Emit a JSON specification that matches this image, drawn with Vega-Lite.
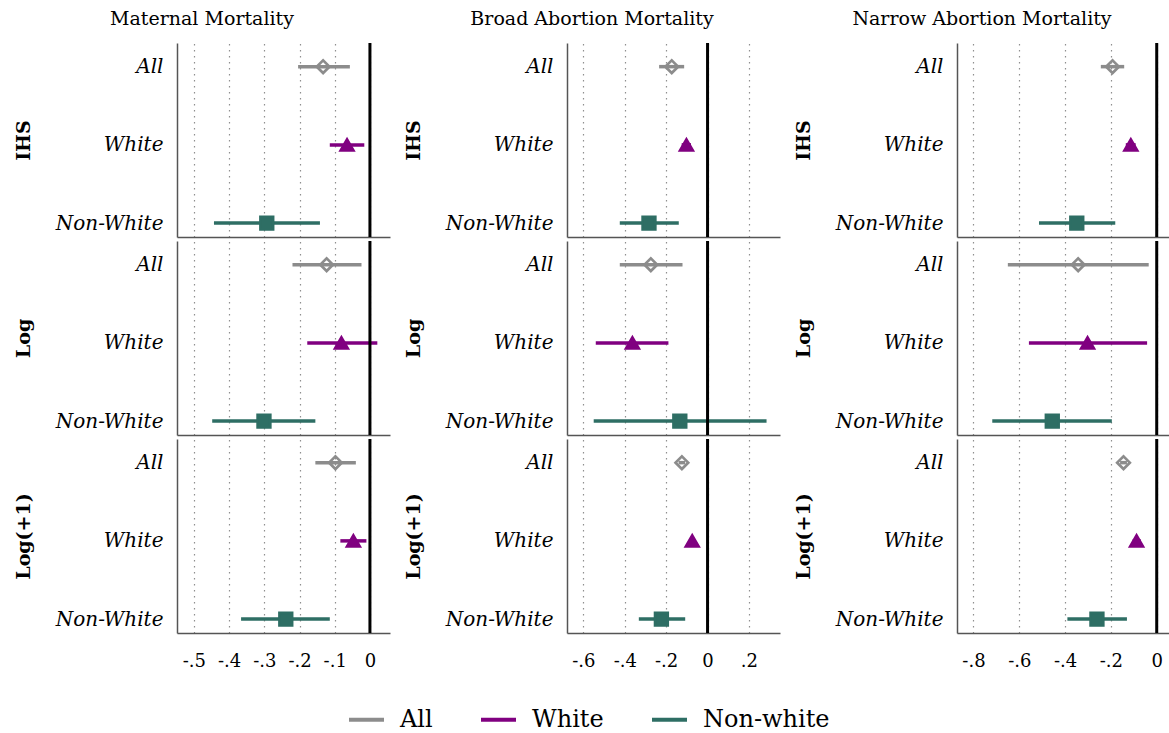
{
"$schema": "https://vega.github.io/schema/vega-lite/v6.json",
"padding": {"left": 14, "top": 9, "right": 0, "bottom": 0},
"background": "white",
"data": {"values": [
{"outcome":"Maternal","spec":"IHS","group":"All","leg":"All","est":-0.133,"lo":-0.204,"hi":-0.057},
{"outcome":"Maternal","spec":"IHS","group":"White","leg":"White","est":-0.065,"lo":-0.114,"hi":-0.016},
{"outcome":"Maternal","spec":"IHS","group":"Non-White","leg":"Non-white","est":-0.293,"lo":-0.443,"hi":-0.142},
{"outcome":"Maternal","spec":"Log","group":"All","leg":"All","est":-0.123,"lo":-0.220,"hi":-0.024},
{"outcome":"Maternal","spec":"Log","group":"White","leg":"White","est":-0.081,"lo":-0.178,"hi":0.021},
{"outcome":"Maternal","spec":"Log","group":"Non-White","leg":"Non-white","est":-0.301,"lo":-0.448,"hi":-0.155},
{"outcome":"Maternal","spec":"Log(+1)","group":"All","leg":"All","est":-0.098,"lo":-0.155,"hi":-0.040},
{"outcome":"Maternal","spec":"Log(+1)","group":"White","leg":"White","est":-0.047,"lo":-0.084,"hi":-0.010},
{"outcome":"Maternal","spec":"Log(+1)","group":"Non-White","leg":"Non-white","est":-0.239,"lo":-0.366,"hi":-0.114},
{"outcome":"Broad","spec":"IHS","group":"All","leg":"All","est":-0.173,"lo":-0.234,"hi":-0.113},
{"outcome":"Broad","spec":"IHS","group":"White","leg":"White","est":-0.102,"lo":-0.125,"hi":-0.080},
{"outcome":"Broad","spec":"IHS","group":"Non-White","leg":"Non-white","est":-0.283,"lo":-0.424,"hi":-0.139},
{"outcome":"Broad","spec":"Log","group":"All","leg":"All","est":-0.274,"lo":-0.424,"hi":-0.121},
{"outcome":"Broad","spec":"Log","group":"White","leg":"White","est":-0.363,"lo":-0.540,"hi":-0.189},
{"outcome":"Broad","spec":"Log","group":"Non-White","leg":"Non-white","est":-0.134,"lo":-0.550,"hi":0.285},
{"outcome":"Broad","spec":"Log(+1)","group":"All","leg":"All","est":-0.124,"lo":-0.140,"hi":-0.108},
{"outcome":"Broad","spec":"Log(+1)","group":"White","leg":"White","est":-0.074,"lo":-0.090,"hi":-0.060},
{"outcome":"Broad","spec":"Log(+1)","group":"Non-White","leg":"Non-white","est":-0.223,"lo":-0.332,"hi":-0.108},
{"outcome":"Narrow","spec":"IHS","group":"All","leg":"All","est":-0.193,"lo":-0.244,"hi":-0.142},
{"outcome":"Narrow","spec":"IHS","group":"White","leg":"White","est":-0.113,"lo":-0.135,"hi":-0.092},
{"outcome":"Narrow","spec":"IHS","group":"Non-White","leg":"Non-white","est":-0.349,"lo":-0.514,"hi":-0.181},
{"outcome":"Narrow","spec":"Log","group":"All","leg":"All","est":-0.343,"lo":-0.650,"hi":-0.035},
{"outcome":"Narrow","spec":"Log","group":"White","leg":"White","est":-0.302,"lo":-0.558,"hi":-0.042},
{"outcome":"Narrow","spec":"Log","group":"Non-White","leg":"Non-white","est":-0.456,"lo":-0.718,"hi":-0.196},
{"outcome":"Narrow","spec":"Log(+1)","group":"All","leg":"All","est":-0.145,"lo":-0.160,"hi":-0.130},
{"outcome":"Narrow","spec":"Log(+1)","group":"White","leg":"White","est":-0.088,"lo":-0.105,"hi":-0.070},
{"outcome":"Narrow","spec":"Log(+1)","group":"Non-White","leg":"Non-white","est":-0.261,"lo":-0.390,"hi":-0.130}
]},
"spacing": 14,
"hconcat": [
{"title": "Maternal Mortality", "spacing": 0, "vconcat": [
 {"width": 213, "height": 194, "layer": [
  {"transform": [{"filter": "datum.outcome == 'Maternal' && datum.spec == 'IHS'"}], "mark": {"type": "rule", "strokeWidth": 3.5},
   "encoding": {"x": {"field": "lo", "type": "quantitative", "scale": {"domain": [-0.548, 0.057], "nice": false, "zero": false}, "axis": {"labels": false, "ticks": false, "title": null, "values": [-0.5,-0.4,-0.3,-0.2,-0.1,0], "minExtent": 0}}, "x2": {"field": "hi"},
    "y": {"field": "group", "type": "nominal", "scale": {"type": "point", "domain": ["All","White","Non-White"], "padding": 0.24, "align": 0.63}, "axis": {"title": "IHS"}},
    "color": {"field": "leg", "type": "nominal", "scale": {"domain": ["All","White","Non-white"], "range": ["#8c8c8c","#800080","#2e6e64"]},
      "legend": {"orient": "none", "direction": "horizontal", "legendX": 170, "legendY": 657, "title": null, "symbolType": "stroke", "symbolSize": 1225, "symbolStrokeWidth": 4, "labelFontSize": 24, "labelFont": "DejaVu Serif", "labelColor": "black", "labelOffset": 14, "columnPadding": 40, "padding": 0}}}},
  {"data": {"values": [{"z": 0}]}, "mark": {"type": "rule", "color": "black", "strokeWidth": 3}, "encoding": {"x": {"field": "z", "type": "quantitative"}}},
  {"transform": [{"filter": "datum.outcome == 'Maternal' && datum.spec == 'IHS'"}], "mark": {"type": "point", "size": 160, "strokeWidth": 2.7, "opacity": 1},
   "encoding": {"x": {"field": "est", "type": "quantitative"},
    "y": {"field": "group", "type": "nominal", "scale": {"type": "point", "domain": ["All","White","Non-White"], "padding": 0.24, "align": 0.63}, "axis": {"title": "IHS"}},
    "stroke": {"field": "group", "type": "nominal", "scale": {"domain": ["All","White","Non-White"], "range": ["#8c8c8c","#800080","#2e6e64"]}, "legend": null},
    "shape": {"field": "group", "type": "nominal", "scale": {"domain": ["All","White","Non-White"], "range": ["diamond","triangle-up","square"]}, "legend": null},
    "fill": {"field": "group", "type": "nominal", "scale": {"domain": ["All","White","Non-White"], "range": ["transparent","#800080","#2e6e64"]}, "legend": null}}}
 ]},
 {"width": 213, "height": 194, "layer": [
  {"transform": [{"filter": "datum.outcome == 'Maternal' && datum.spec == 'Log'"}], "mark": {"type": "rule", "strokeWidth": 3.5},
   "encoding": {"x": {"field": "lo", "type": "quantitative", "scale": {"domain": [-0.548, 0.057], "nice": false, "zero": false}, "axis": {"labels": false, "ticks": false, "title": null, "values": [-0.5,-0.4,-0.3,-0.2,-0.1,0], "minExtent": 0}}, "x2": {"field": "hi"},
    "y": {"field": "group", "type": "nominal", "scale": {"type": "point", "domain": ["All","White","Non-White"], "padding": 0.24, "align": 0.63}, "axis": {"title": "Log"}},
    "color": {"field": "leg", "type": "nominal"}}},
  {"data": {"values": [{"z": 0}]}, "mark": {"type": "rule", "color": "black", "strokeWidth": 3}, "encoding": {"x": {"field": "z", "type": "quantitative"}}},
  {"transform": [{"filter": "datum.outcome == 'Maternal' && datum.spec == 'Log'"}], "mark": {"type": "point", "size": 160, "strokeWidth": 2.7, "opacity": 1},
   "encoding": {"x": {"field": "est", "type": "quantitative"},
    "y": {"field": "group", "type": "nominal", "scale": {"type": "point", "domain": ["All","White","Non-White"], "padding": 0.24, "align": 0.63}, "axis": {"title": "Log"}},
    "stroke": {"field": "group", "type": "nominal", "legend": null},
    "shape": {"field": "group", "type": "nominal", "legend": null},
    "fill": {"field": "group", "type": "nominal", "legend": null}}}
 ]},
 {"width": 213, "height": 194, "layer": [
  {"transform": [{"filter": "datum.outcome == 'Maternal' && datum.spec == 'Log(+1)'"}], "mark": {"type": "rule", "strokeWidth": 3.5},
   "encoding": {"x": {"field": "lo", "type": "quantitative", "scale": {"domain": [-0.548, 0.057], "nice": false, "zero": false}, "axis": {"title": null, "values": [-0.5,-0.4,-0.3,-0.2,-0.1,0], "labelExpr": "datum.value == 0 ? '0' : (datum.value < 0 ? '-' : '') + replace(format(abs(datum.value), '.1f'), '0.', '.')"}}, "x2": {"field": "hi"},
    "y": {"field": "group", "type": "nominal", "scale": {"type": "point", "domain": ["All","White","Non-White"], "padding": 0.24, "align": 0.63}, "axis": {"title": "Log(+1)"}},
    "color": {"field": "leg", "type": "nominal"}}},
  {"data": {"values": [{"z": 0}]}, "mark": {"type": "rule", "color": "black", "strokeWidth": 3}, "encoding": {"x": {"field": "z", "type": "quantitative"}}},
  {"transform": [{"filter": "datum.outcome == 'Maternal' && datum.spec == 'Log(+1)'"}], "mark": {"type": "point", "size": 160, "strokeWidth": 2.7, "opacity": 1},
   "encoding": {"x": {"field": "est", "type": "quantitative"},
    "y": {"field": "group", "type": "nominal", "scale": {"type": "point", "domain": ["All","White","Non-White"], "padding": 0.24, "align": 0.63}, "axis": {"title": "Log(+1)"}},
    "stroke": {"field": "group", "type": "nominal", "legend": null},
    "shape": {"field": "group", "type": "nominal", "legend": null},
    "fill": {"field": "group", "type": "nominal", "legend": null}}}
 ]}
]},
{"title": "Broad Abortion Mortality", "spacing": 0, "vconcat": [
 {"width": 213, "height": 194, "layer": [
  {"transform": [{"filter": "datum.outcome == 'Broad' && datum.spec == 'IHS'"}], "mark": {"type": "rule", "strokeWidth": 3.5},
   "encoding": {"x": {"field": "lo", "type": "quantitative", "scale": {"domain": [-0.679, 0.35], "nice": false, "zero": false}, "axis": {"labels": false, "ticks": false, "title": null, "values": [-0.6,-0.4,-0.2,0,0.2], "minExtent": 0}}, "x2": {"field": "hi"},
    "y": {"field": "group", "type": "nominal", "scale": {"type": "point", "domain": ["All","White","Non-White"], "padding": 0.24, "align": 0.63}, "axis": {"title": "IHS"}},
    "color": {"field": "leg", "type": "nominal"}}},
  {"data": {"values": [{"z": 0}]}, "mark": {"type": "rule", "color": "black", "strokeWidth": 3}, "encoding": {"x": {"field": "z", "type": "quantitative"}}},
  {"transform": [{"filter": "datum.outcome == 'Broad' && datum.spec == 'IHS'"}], "mark": {"type": "point", "size": 160, "strokeWidth": 2.7, "opacity": 1},
   "encoding": {"x": {"field": "est", "type": "quantitative"},
    "y": {"field": "group", "type": "nominal", "scale": {"type": "point", "domain": ["All","White","Non-White"], "padding": 0.24, "align": 0.63}, "axis": {"title": "IHS"}},
    "stroke": {"field": "group", "type": "nominal", "legend": null},
    "shape": {"field": "group", "type": "nominal", "legend": null},
    "fill": {"field": "group", "type": "nominal", "legend": null}}}
 ]},
 {"width": 213, "height": 194, "layer": [
  {"transform": [{"filter": "datum.outcome == 'Broad' && datum.spec == 'Log'"}], "mark": {"type": "rule", "strokeWidth": 3.5},
   "encoding": {"x": {"field": "lo", "type": "quantitative", "scale": {"domain": [-0.679, 0.35], "nice": false, "zero": false}, "axis": {"labels": false, "ticks": false, "title": null, "values": [-0.6,-0.4,-0.2,0,0.2], "minExtent": 0}}, "x2": {"field": "hi"},
    "y": {"field": "group", "type": "nominal", "scale": {"type": "point", "domain": ["All","White","Non-White"], "padding": 0.24, "align": 0.63}, "axis": {"title": "Log"}},
    "color": {"field": "leg", "type": "nominal"}}},
  {"data": {"values": [{"z": 0}]}, "mark": {"type": "rule", "color": "black", "strokeWidth": 3}, "encoding": {"x": {"field": "z", "type": "quantitative"}}},
  {"transform": [{"filter": "datum.outcome == 'Broad' && datum.spec == 'Log'"}], "mark": {"type": "point", "size": 160, "strokeWidth": 2.7, "opacity": 1},
   "encoding": {"x": {"field": "est", "type": "quantitative"},
    "y": {"field": "group", "type": "nominal", "scale": {"type": "point", "domain": ["All","White","Non-White"], "padding": 0.24, "align": 0.63}, "axis": {"title": "Log"}},
    "stroke": {"field": "group", "type": "nominal", "legend": null},
    "shape": {"field": "group", "type": "nominal", "legend": null},
    "fill": {"field": "group", "type": "nominal", "legend": null}}}
 ]},
 {"width": 213, "height": 194, "layer": [
  {"transform": [{"filter": "datum.outcome == 'Broad' && datum.spec == 'Log(+1)'"}], "mark": {"type": "rule", "strokeWidth": 3.5},
   "encoding": {"x": {"field": "lo", "type": "quantitative", "scale": {"domain": [-0.679, 0.35], "nice": false, "zero": false}, "axis": {"title": null, "values": [-0.6,-0.4,-0.2,0,0.2], "labelExpr": "datum.value == 0 ? '0' : (datum.value < 0 ? '-' : '') + replace(format(abs(datum.value), '.1f'), '0.', '.')"}}, "x2": {"field": "hi"},
    "y": {"field": "group", "type": "nominal", "scale": {"type": "point", "domain": ["All","White","Non-White"], "padding": 0.24, "align": 0.63}, "axis": {"title": "Log(+1)"}},
    "color": {"field": "leg", "type": "nominal"}}},
  {"data": {"values": [{"z": 0}]}, "mark": {"type": "rule", "color": "black", "strokeWidth": 3}, "encoding": {"x": {"field": "z", "type": "quantitative"}}},
  {"transform": [{"filter": "datum.outcome == 'Broad' && datum.spec == 'Log(+1)'"}], "mark": {"type": "point", "size": 160, "strokeWidth": 2.7, "opacity": 1},
   "encoding": {"x": {"field": "est", "type": "quantitative"},
    "y": {"field": "group", "type": "nominal", "scale": {"type": "point", "domain": ["All","White","Non-White"], "padding": 0.24, "align": 0.63}, "axis": {"title": "Log(+1)"}},
    "stroke": {"field": "group", "type": "nominal", "legend": null},
    "shape": {"field": "group", "type": "nominal", "legend": null},
    "fill": {"field": "group", "type": "nominal", "legend": null}}}
 ]}
]},
{"title": "Narrow Abortion Mortality", "spacing": 0, "vconcat": [
 {"width": 213, "height": 194, "layer": [
  {"transform": [{"filter": "datum.outcome == 'Narrow' && datum.spec == 'IHS'"}], "mark": {"type": "rule", "strokeWidth": 3.5},
   "encoding": {"x": {"field": "lo", "type": "quantitative", "scale": {"domain": [-0.872, 0.058], "nice": false, "zero": false}, "axis": {"labels": false, "ticks": false, "title": null, "values": [-0.8,-0.6,-0.4,-0.2,0], "minExtent": 0}}, "x2": {"field": "hi"},
    "y": {"field": "group", "type": "nominal", "scale": {"type": "point", "domain": ["All","White","Non-White"], "padding": 0.24, "align": 0.63}, "axis": {"title": "IHS"}},
    "color": {"field": "leg", "type": "nominal"}}},
  {"data": {"values": [{"z": 0}]}, "mark": {"type": "rule", "color": "black", "strokeWidth": 3}, "encoding": {"x": {"field": "z", "type": "quantitative"}}},
  {"transform": [{"filter": "datum.outcome == 'Narrow' && datum.spec == 'IHS'"}], "mark": {"type": "point", "size": 160, "strokeWidth": 2.7, "opacity": 1},
   "encoding": {"x": {"field": "est", "type": "quantitative"},
    "y": {"field": "group", "type": "nominal", "scale": {"type": "point", "domain": ["All","White","Non-White"], "padding": 0.24, "align": 0.63}, "axis": {"title": "IHS"}},
    "stroke": {"field": "group", "type": "nominal", "legend": null},
    "shape": {"field": "group", "type": "nominal", "legend": null},
    "fill": {"field": "group", "type": "nominal", "legend": null}}}
 ]},
 {"width": 213, "height": 194, "layer": [
  {"transform": [{"filter": "datum.outcome == 'Narrow' && datum.spec == 'Log'"}], "mark": {"type": "rule", "strokeWidth": 3.5},
   "encoding": {"x": {"field": "lo", "type": "quantitative", "scale": {"domain": [-0.872, 0.058], "nice": false, "zero": false}, "axis": {"labels": false, "ticks": false, "title": null, "values": [-0.8,-0.6,-0.4,-0.2,0], "minExtent": 0}}, "x2": {"field": "hi"},
    "y": {"field": "group", "type": "nominal", "scale": {"type": "point", "domain": ["All","White","Non-White"], "padding": 0.24, "align": 0.63}, "axis": {"title": "Log"}},
    "color": {"field": "leg", "type": "nominal"}}},
  {"data": {"values": [{"z": 0}]}, "mark": {"type": "rule", "color": "black", "strokeWidth": 3}, "encoding": {"x": {"field": "z", "type": "quantitative"}}},
  {"transform": [{"filter": "datum.outcome == 'Narrow' && datum.spec == 'Log'"}], "mark": {"type": "point", "size": 160, "strokeWidth": 2.7, "opacity": 1},
   "encoding": {"x": {"field": "est", "type": "quantitative"},
    "y": {"field": "group", "type": "nominal", "scale": {"type": "point", "domain": ["All","White","Non-White"], "padding": 0.24, "align": 0.63}, "axis": {"title": "Log"}},
    "stroke": {"field": "group", "type": "nominal", "legend": null},
    "shape": {"field": "group", "type": "nominal", "legend": null},
    "fill": {"field": "group", "type": "nominal", "legend": null}}}
 ]},
 {"width": 213, "height": 194, "layer": [
  {"transform": [{"filter": "datum.outcome == 'Narrow' && datum.spec == 'Log(+1)'"}], "mark": {"type": "rule", "strokeWidth": 3.5},
   "encoding": {"x": {"field": "lo", "type": "quantitative", "scale": {"domain": [-0.872, 0.058], "nice": false, "zero": false}, "axis": {"title": null, "values": [-0.8,-0.6,-0.4,-0.2,0], "labelExpr": "datum.value == 0 ? '0' : (datum.value < 0 ? '-' : '') + replace(format(abs(datum.value), '.1f'), '0.', '.')"}}, "x2": {"field": "hi"},
    "y": {"field": "group", "type": "nominal", "scale": {"type": "point", "domain": ["All","White","Non-White"], "padding": 0.24, "align": 0.63}, "axis": {"title": "Log(+1)"}},
    "color": {"field": "leg", "type": "nominal"}}},
  {"data": {"values": [{"z": 0}]}, "mark": {"type": "rule", "color": "black", "strokeWidth": 3}, "encoding": {"x": {"field": "z", "type": "quantitative"}}},
  {"transform": [{"filter": "datum.outcome == 'Narrow' && datum.spec == 'Log(+1)'"}], "mark": {"type": "point", "size": 160, "strokeWidth": 2.7, "opacity": 1},
   "encoding": {"x": {"field": "est", "type": "quantitative"},
    "y": {"field": "group", "type": "nominal", "scale": {"type": "point", "domain": ["All","White","Non-White"], "padding": 0.24, "align": 0.63}, "axis": {"title": "Log(+1)"}},
    "stroke": {"field": "group", "type": "nominal", "legend": null},
    "shape": {"field": "group", "type": "nominal", "legend": null},
    "fill": {"field": "group", "type": "nominal", "legend": null}}}
 ]}
]}
],
"config": {
 "font": "DejaVu Serif",
 "view": {"stroke": null},
 "title": {"font": "DejaVu Serif", "fontSize": 19, "fontWeight": "normal", "color": "black", "anchor": "middle", "offset": 13},
 "axis": {"labelFont": "DejaVu Serif", "titleFont": "DejaVu Serif", "labelColor": "black", "titleColor": "black", "domainColor": "#555555", "domainWidth": 1.5, "ticks": false, "gridColor": "#8f8f8f", "gridDash": [1.5, 4.5], "gridWidth": 1.2},
 "axisX": {"labelFontSize": 18, "labelPadding": 19, "grid": true},
 "axisY": {"labelFontSize": 20, "labelFontStyle": "italic", "labelPadding": 14, "grid": false, "titleFontSize": 19, "titleFontWeight": "bold", "titlePadding": 22, "minExtent": 122, "maxExtent": 122}
}
}
